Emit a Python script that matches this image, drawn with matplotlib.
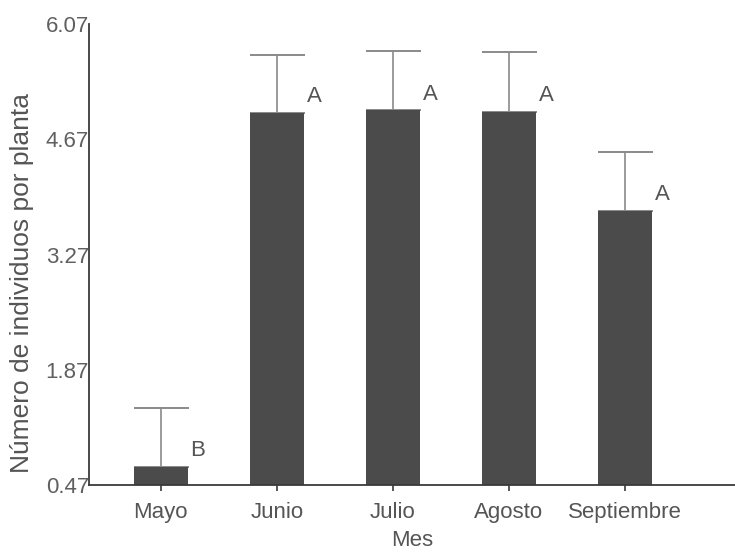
import matplotlib
matplotlib.use("Agg")
import matplotlib.pyplot as plt
import numpy as np

plt.rcParams['font.family'] = ['Liberation Sans', 'DejaVu Sans']

meses = ["Mayo", "Junio", "Julio", "Agosto", "Septiembre"]
medias = [0.69, 4.99, 5.02, 5.00, 3.80]
error_sup = [0.72, 0.71, 0.72, 0.73, 0.71]
letras = ["B", "A", "A", "A", "A"]
yticks = [0.47, 1.87, 3.27, 4.67, 6.07]

fig = plt.figure(figsize=(7.35, 5.52), dpi=100)
ax = fig.add_axes([0.121, 0.1214, 0.879, 0.835])

x = np.arange(len(meses))
base = yticks[0]
alturas = [m - base for m in medias]

ax.bar(x, alturas, bottom=base, width=0.47, color="#4b4b4b", edgecolor="none", zorder=2)
ax.errorbar(x, medias, yerr=[np.zeros(len(medias)), error_sup], fmt="none",
            ecolor="#8a8a8a", elinewidth=1.2, capsize=19.8, capthick=1.4, zorder=1)

for xi, m, l in zip(x, medias, letras):
    ax.text(xi + 0.32, m + 0.2, l, ha="center", va="center", fontsize=16, color="#555555")

ax.set_xlim(-0.62, 4.95)
ax.set_ylim(yticks[0], yticks[-1])
ax.set_yticks(yticks)
ax.set_yticklabels([f"{v:.2f}" for v in yticks])
ax.set_xticks(x)
ax.set_xticklabels(meses)

for s in ["top", "right"]:
    ax.spines[s].set_visible(False)
for s in ["left", "bottom"]:
    ax.spines[s].set_color("#3a3a3a")
    ax.spines[s].set_linewidth(1.3)

ax.tick_params(axis="y", length=0, pad=0, labelsize=16, labelcolor="#606060")
ax.tick_params(axis="x", length=4, width=1.2, color="#3a3a3a", pad=8,
               labelsize=16, labelcolor="#555555")

ax.set_xlabel("Mes", fontsize=16, color="#555555", labelpad=5)
fig.text(22 / 735, 1 - 283 / 552, "Número de individuos por planta", rotation=90,
         ha="center", va="center", fontsize=19, color="#555555")

fig.savefig("out.png", dpi=100, facecolor="white")
